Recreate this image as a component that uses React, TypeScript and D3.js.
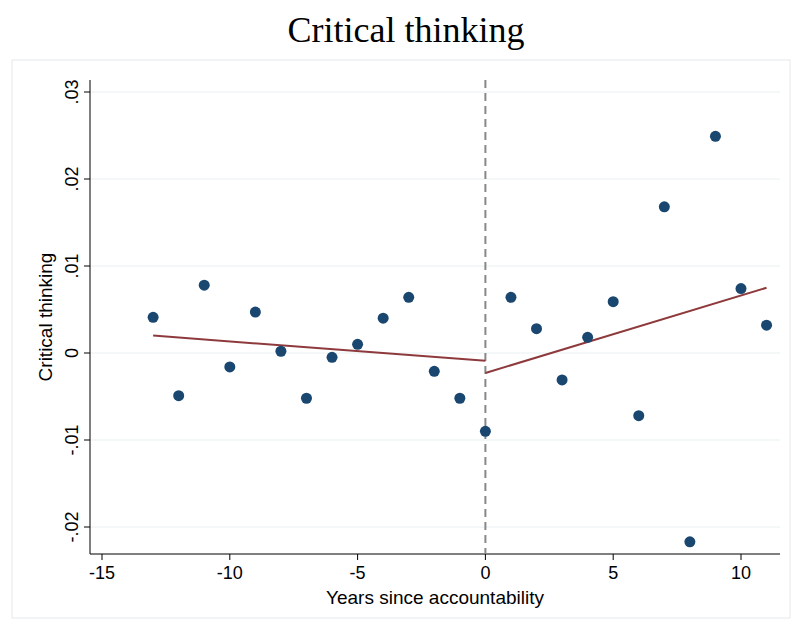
import * as d3 from "d3";

const years = [-13, -12, -11, -10, -9, -8, -7, -6, -5, -4, -3, -2, -1, 0, 1, 2, 3, 4, 5, 6, 7, 8, 9, 10, 11];
const values = [0.0041, -0.0049, 0.0078, -0.0016, 0.0047, 0.0002, -0.0052, -0.0005, 0.001, 0.004, 0.0064, -0.0021, -0.0052, -0.009, 0.0064, 0.0028, -0.0031, 0.0018, 0.0059, -0.0072, 0.0168, -0.0217, 0.0249, 0.0074, 0.0032];
const fitPre = [[-13, 0.002], [0, -0.0009]];
const fitPost = [[0, -0.0023], [11, 0.0075]];
const xTicks = [-15, -10, -5, 0, 5, 10];
const yTicks = [-0.02, -0.01, 0, 0.01, 0.02, 0.03];
const yTickLabels = ["-.02", "-.01", "0", ".01", ".02", ".03"];

export default function App() {
  const width = 798;
  const height = 627;
  const x = d3.scaleLinear().domain([-15, 10]).range([102, 741]);
  const y = d3.scaleLinear().domain([-0.02, 0.03]).range([527, 92]);
  const axisX = 90;
  const axisY = 554;
  const font = "Liberation Sans, Arial, sans-serif";

  return (
    <svg width={width} height={height} style={{ position: "absolute", left: 0, top: 0 }}>
      <rect width={width} height={height} fill="white" />
      <text x={406} y={42} textAnchor="middle" fontSize={36} fontFamily="Liberation Serif, Times New Roman, serif">
        Critical thinking
      </text>
      <rect x={12} y={60} width={778} height={558} fill="white" stroke="#e4e8ec" />
      {yTicks.map((t, i) => (
        <g key={t}>
          <line x1={axisX} x2={780} y1={y(t)} y2={y(t)} stroke="#eaf0f2" />
          <line x1={axisX - 6} x2={axisX} y1={y(t)} y2={y(t)} stroke="#000" />
          <text
            transform={`translate(${axisX - 12},${y(t)}) rotate(-90)`}
            textAnchor="middle"
            fontSize={18}
            fontFamily={font}
          >
            {yTickLabels[i]}
          </text>
        </g>
      ))}
      {xTicks.map((t) => (
        <g key={t}>
          <line x1={x(t)} x2={x(t)} y1={axisY} y2={axisY + 6} stroke="#000" />
          <text x={x(t)} y={axisY + 25} textAnchor="middle" fontSize={18} fontFamily={font}>
            {t}
          </text>
        </g>
      ))}
      <line x1={axisX} x2={axisX} y1={80} y2={axisY} stroke="#000" />
      <line x1={axisX} x2={780} y1={axisY} y2={axisY} stroke="#000" />
      <line x1={x(0)} x2={x(0)} y1={80} y2={axisY} stroke="#888" strokeWidth={2} strokeDasharray="8 5" />
      {[fitPre, fitPost].map((f, i) => (
        <line key={i} x1={x(f[0][0])} y1={y(f[0][1])} x2={x(f[1][0])} y2={y(f[1][1])} stroke="#8e3a3d" strokeWidth={2} />
      ))}
      {years.map((yr, i) => (
        <circle key={yr} cx={x(yr)} cy={y(values[i])} r={5.5} fill="#1a476f" />
      ))}
      <text x={435} y={604} textAnchor="middle" fontSize={19} fontFamily={font}>
        Years since accountability
      </text>
      <text transform={`translate(52,${317}) rotate(-90)`} textAnchor="middle" fontSize={19} fontFamily={font}>
        Critical thinking
      </text>
    </svg>
  );
}
